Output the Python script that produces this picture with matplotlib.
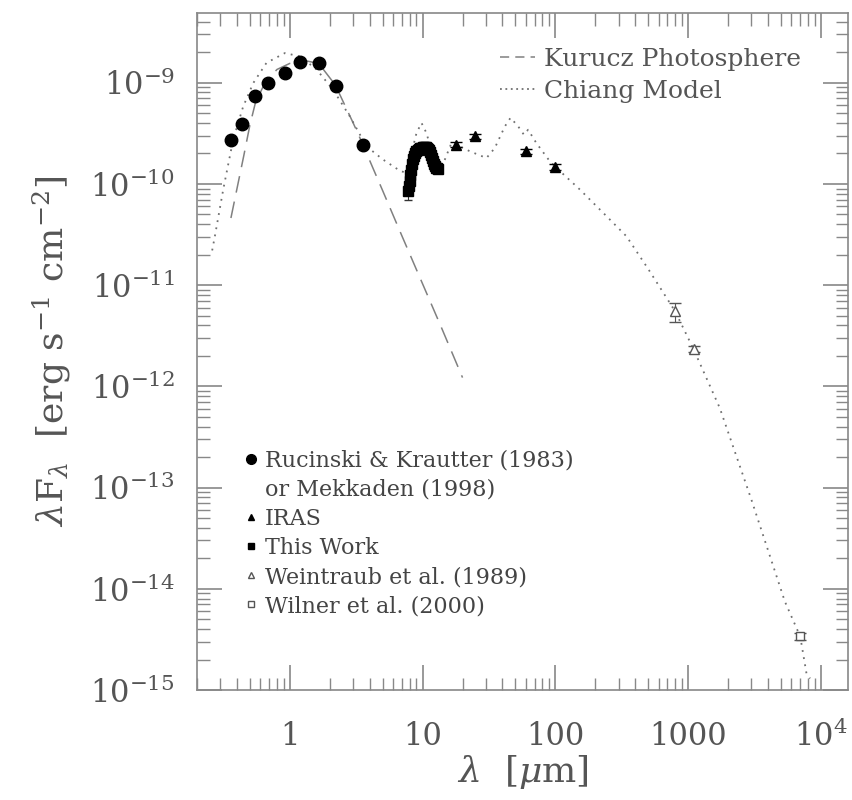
import numpy as np
import matplotlib
matplotlib.use("Agg")
import matplotlib.pyplot as plt
from matplotlib.lines import Line2D

plt.rcParams['font.family'] = ['DejaVu Serif']
plt.rcParams['mathtext.fontset'] = 'dejavuserif'

# optical / near-IR photometry (Rucinski & Krautter 1983 or Mekkaden 1998)
opt_wl = [0.36, 0.44, 0.55, 0.68, 0.92, 1.19, 1.65, 2.22, 3.55]
opt_flux = [2.73e-10, 3.94e-10, 7.3e-10, 1.0e-9, 1.25e-9, 1.61e-9, 1.58e-9, 9.3e-10, 2.44e-10]

# IRAS
iras_wl = [18, 25, 60, 100]
iras_flux = [2.44e-10, 2.94e-10, 2.09e-10, 1.47e-10]
iras_err = [0.15e-10, 0.18e-10, 0.13e-10, 0.1e-10]

# this work: mid-IR spectrum (units of 1e-10)
spec_wl = [7.8, 7.9, 8.0, 8.1, 8.2, 8.35, 8.5, 8.65, 8.8, 9.0, 9.2, 9.4, 9.6, 9.8, 10.0,
           10.2, 10.4, 10.6, 10.8, 11.0, 11.2, 11.4, 11.6, 11.8, 12.0, 12.2, 12.4, 12.6, 12.8, 13.0]
spec_flux = [0.85, 0.95, 1.08, 1.22, 1.38, 1.58, 1.75, 1.9, 2.0, 2.1, 2.16, 2.2, 2.24, 2.27, 2.29,
             2.3, 2.3, 2.29, 2.26, 2.22, 2.15, 2.05, 1.93, 1.8, 1.68, 1.58, 1.5, 1.45, 1.42, 1.4]
spec_err = [0.15, 0.13, 0.12, 0.1, 0.1, 0.09, 0.09, 0.08, 0.08, 0.08, 0.08, 0.08, 0.08, 0.08, 0.08,
            0.08, 0.08, 0.08, 0.08, 0.08, 0.08, 0.08, 0.08, 0.08, 0.08, 0.08, 0.08, 0.08, 0.08, 0.08]

# Weintraub et al. (1989)
wein_wl = [800, 1100]
wein_flux = [5.5e-12, 2.33e-12]
wein_err = [1.2e-12, 0.15e-12]

# Wilner et al. (2000)
wil_wl = [7000]
wil_flux = [3.38e-15]
wil_err = [0.25e-15]

# Kurucz photosphere
kur_wl = [0.36, 0.40, 0.45, 0.50, 0.55, 0.65, 0.8, 1.0, 1.3, 1.65, 2.2, 3.0, 3.55,
          4.24, 5.0, 7.0, 10, 14, 20]
kur_flux = [4.6e-11, 9e-11, 1.9e-10, 3.8e-10, 6.3e-10, 1.0e-9, 1.35e-9, 1.55e-9, 1.65e-9,
            1.55e-9, 9.5e-10, 4.0e-10, 2.45e-10, 1.42e-10, 8.6e-11, 3.05e-11,
            1.03e-11, 3.7e-12, 1.22e-12]

# Chiang model
chi_wl = [0.26, 0.272, 0.315, 0.374, 0.445, 0.53, 0.667, 0.917, 1.19, 1.59, 2.12, 2.83, 3.78,
          5.0, 6.74, 7.57, 9.0, 9.82, 10.7, 12.0, 13.9, 16.5, 18, 22.7, 30.3, 35, 41.7, 46,
          52.5, 58, 62.4, 72, 91, 102, 153, 243, 344, 500, 800, 1100, 1735, 3000, 5360,
          7000, 7800, 8300]
chi_flux = [2.2e-11, 3.0e-11, 8.8e-11, 2.73e-10, 5.8e-10, 9.9e-10, 1.57e-9, 1.96e-9, 1.82e-9,
            1.35e-9, 8.5e-10, 4.65e-10, 2.35e-10, 1.75e-10, 1.35e-10, 1.28e-10, 3.18e-10,
            4.0e-10, 3.18e-10, 1.87e-10, 1.44e-10, 2.53e-10, 2.44e-10, 2.1e-10, 1.8e-10,
            2.26e-10, 3.7e-10, 4.5e-10, 3.7e-10, 3.06e-10, 3.43e-10, 2.53e-10, 1.67e-10,
            1.44e-10, 8.8e-11, 4.8e-11, 3.03e-11, 1.45e-11, 5.5e-12, 2.33e-12, 6.1e-13,
            7.6e-14, 7.5e-15, 3.38e-15, 1.46e-15, 1.3e-15]

grey = '#555555'
tick_grey = '#888888'

fig = plt.figure(figsize=(8.53, 8.0), dpi=100)
ax = fig.add_axes([0.231, 0.1375, 0.763, 0.8465])
ax.set_xscale('log')
ax.set_yscale('log')

ax.plot(kur_wl, kur_flux, color='#808080', lw=1.1, dashes=(11, 6), zorder=2)
ax.plot(chi_wl, chi_flux, color='#707070', lw=1.3, linestyle=(0, (1, 3)), zorder=2)

ax.plot(opt_wl, opt_flux, 'o', color='black', ms=9, zorder=4)
ax.errorbar(iras_wl, iras_flux, yerr=iras_err, fmt='^', color='black', ms=7,
            elinewidth=0.8, capsize=4, zorder=4)
ax.errorbar(spec_wl, [f * 1e-10 for f in spec_flux], yerr=[e * 1e-10 for e in spec_err],
            fmt='s', color='black', ms=6.5, elinewidth=0.8, capsize=3, ecolor='#333333', zorder=4)
ax.errorbar(wein_wl, wein_flux, yerr=wein_err, fmt='^', mfc='white', mec='#555555', ms=7,
            ecolor='#555555', elinewidth=0.8, capsize=4, zorder=4)
ax.errorbar(wil_wl, wil_flux, yerr=wil_err, fmt='s', mfc='white', mec='#555555', ms=6,
            ecolor='#555555', elinewidth=0.8, capsize=4, zorder=4)

ax.set_xlim(0.2, 1.6e4)
ax.set_ylim(1e-15, 4.9e-9)

ax.set_xticks([1, 10, 100, 1000, 1e4])
ax.set_xticklabels(['1', '10', '100', '1000', r'$10^{4}$'])
yt = [1e-15, 1e-14, 1e-13, 1e-12, 1e-11, 1e-10, 1e-9]
ax.set_yticks(yt)
ax.set_yticklabels([r'$10^{%d}$' % int(np.log10(v)) for v in yt])

ax.tick_params(which='both', direction='in', top=True, right=True, color=tick_grey,
               labelcolor=grey, labelsize=22)
ax.tick_params(which='major', length=18, width=1.2, pad=16)
ax.tick_params(axis='x', which='major', pad=22)
ax.tick_params(which='minor', length=9, width=1.0)
for s in ax.spines.values():
    s.set_color(tick_grey)
    s.set_linewidth(1.2)

ax.set_xlabel(r'$\lambda$  [$\mu$m]', fontsize=26, color=grey, labelpad=0)
ax.set_ylabel(r'$\lambda$F$_\lambda$  [erg s$^{-1}$ cm$^{-2}$]', fontsize=26, color=grey, labelpad=12)

h1 = [Line2D([], [], color='#808080', lw=1.1, dashes=(6, 4)),
      Line2D([], [], color='#707070', lw=1.3, linestyle=(0, (1, 2)))]
leg1 = ax.legend(h1, ['Kurucz Photosphere', 'Chiang Model'], loc='upper left',
                 bbox_to_anchor=(0.466, 0.948), frameon=False, fontsize=18,
                 handlelength=1.4, handletextpad=0.35, labelspacing=0.35,
                 borderpad=0, borderaxespad=0, labelcolor=grey)
ax.add_artist(leg1)

h2 = [Line2D([], [], ls='none', marker='o', color='black', ms=7),
      Line2D([], [], ls='none', marker=None),
      Line2D([], [], ls='none', marker='^', color='black', ms=5),
      Line2D([], [], ls='none', marker='s', color='black', ms=5),
      Line2D([], [], ls='none', marker='^', mfc='white', mec='#555555', ms=5),
      Line2D([], [], ls='none', marker='s', mfc='white', mec='#555555', ms=5)]
lab2 = ['Rucinski & Krautter (1983)', 'or Mekkaden (1998)', 'IRAS', 'This Work',
        'Weintraub et al. (1989)', 'Wilner et al. (2000)']
ax.legend(h2, lab2, loc='upper left', bbox_to_anchor=(0.075, 0.355), frameon=False,
          fontsize=16, handlelength=0.5, handletextpad=0.35, labelspacing=0.32,
          borderpad=0, borderaxespad=0, labelcolor='#444444')

fig.savefig('out.png', dpi=100)
